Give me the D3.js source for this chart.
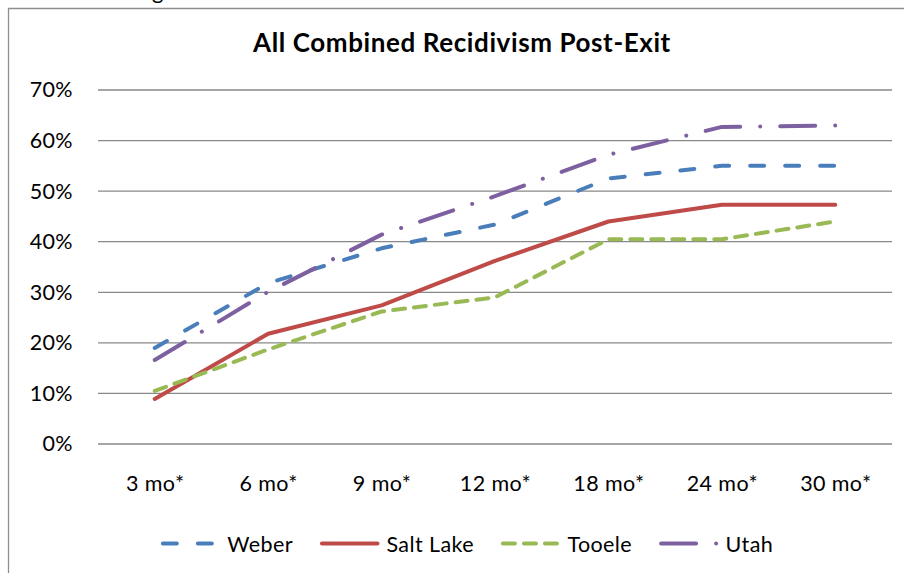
<!DOCTYPE html>
<html>
<head>
<meta charset="utf-8">
<script src="https://cdn.jsdelivr.net/npm/d3@7"></script>
<style>
  html, body { margin: 0; padding: 0; background: #fff; }
  svg { display: block; }
  text { font-family: Lato, "Open Sans", sans-serif; fill: #000; }
</style>
</head>
<body>
<svg id="chart" width="904" height="573"></svg>
<script>
// Recidivism rates by county, months after exit
const categories = ["3 mo*", "6 mo*", "9 mo*", "12 mo*", "18 mo*", "24 mo*", "30 mo*"];
const weber    = [0.190, 0.318, 0.387, 0.434, 0.525, 0.550, 0.550];
const saltLake = [0.089, 0.218, 0.274, 0.362, 0.440, 0.473, 0.473];
const tooele   = [0.105, 0.187, 0.262, 0.290, 0.405, 0.405, 0.440];
const utah     = [0.166, 0.301, 0.414, 0.490, 0.572, 0.627, 0.630];
const seriesNames = ["Weber", "Salt Lake", "Tooele", "Utah"];
const yTicks = [0, 0.1, 0.2, 0.3, 0.4, 0.5, 0.6, 0.7];
const title = "All Combined Recidivism Post-Exit";

const seriesValues = [weber, saltLake, tooele, utah];
const colors = ["#4a7ebb", "#be4b48", "#98b954", "#7d60a0"];
const dashes = ["14,21", null, "12,9", "35,20,0.01,20"];

const svg = d3.select("#chart");

// frame of the chart object (only top and left edges fall inside the page)
svg.append("path")
  .attr("d", "M8.5,573 V8.5 H904")
  .attr("fill", "none")
  .attr("stroke", "#8e8e8e")
  .attr("stroke-width", 1.3);

// tail of the heading above the chart
svg.append("text")
  .attr("x", 152).attr("y", -1)
  .attr("font-size", 22)
  .text("g");

const plot = { left: 98, right: 892, top: 90, bottom: 444 };

const x = d3.scalePoint()
  .domain(categories)
  .range([plot.left, plot.right])
  .padding(0.5);

const y = d3.scaleLinear()
  .domain([0, 0.7])
  .range([plot.bottom, plot.top]);

// horizontal gridlines
svg.append("g")
  .selectAll("line")
  .data(yTicks)
  .join("line")
  .attr("x1", plot.left).attr("x2", plot.right)
  .attr("y1", d => y(d)).attr("y2", d => y(d))
  .attr("stroke", "#898989")
  .attr("stroke-width", 1.3);

const labelStyle = sel => sel
  .attr("font-size", 21.5)
  .attr("letter-spacing", 0.4)
  .attr("font-family", "Lato, sans-serif")
  .attr("fill", "#000");

// y axis labels
const yAxis = d3.axisLeft(y)
  .tickValues(yTicks)
  .tickFormat(d3.format(".0%"))
  .tickSize(0)
  .tickPadding(0);
const yg = svg.append("g")
  .attr("transform", `translate(${plot.left - 25},0)`)
  .call(yAxis);
yg.select(".domain").remove();
yg.selectAll("text").call(labelStyle);

// x axis labels
const xAxis = d3.axisBottom(x).tickSize(0).tickPadding(0);
const xg = svg.append("g")
  .attr("transform", `translate(0,${plot.bottom + 32})`)
  .call(xAxis);
xg.select(".domain").remove();
xg.selectAll("text").call(labelStyle);

// series lines
const line = d3.line()
  .x((d, i) => x(categories[i]))
  .y(d => y(d));

svg.append("g")
  .selectAll("path")
  .data(seriesValues)
  .join("path")
  .attr("d", d => line(d))
  .attr("fill", "none")
  .attr("stroke", (d, i) => colors[i])
  .attr("stroke-width", 4)
  .attr("stroke-linecap", "round")
  .attr("stroke-linejoin", "round")
  .attr("stroke-dasharray", (d, i) => dashes[i]);

// title
svg.append("text")
  .attr("x", 462).attr("y", 52)
  .attr("text-anchor", "middle")
  .attr("font-size", 26)
  .attr("letter-spacing", 0.6)
  .attr("font-weight", "bold")
  .text(title);

// legend
const legend = svg.append("g");
const legendY = 543.5;
const lineLen = 55.5, lineGap = 9, itemGap = 29;
const items = legend.selectAll("g")
  .data(seriesNames)
  .join("g");
items.append("line")
  .attr("x1", 2).attr("x2", 2 + lineLen)
  .attr("y1", legendY).attr("y2", legendY)
  .attr("stroke", (d, i) => colors[i])
  .attr("stroke-width", 4)
  .attr("stroke-linecap", "round")
  .attr("stroke-dasharray", (d, i) => dashes[i]);
items.append("text")
  .attr("x", 2 + lineLen + lineGap)
  .attr("y", legendY + 8.5)
  .call(labelStyle)
  .text(d => d);

const widths = [];
items.each(function () {
  widths.push(this.getBBox().width);
});
const total = d3.sum(widths) + itemGap * (widths.length - 1);
let cursor = 466 - total / 2;
items.attr("transform", (d, i) => {
  const tx = cursor;
  cursor += widths[i] + itemGap;
  return `translate(${tx},0)`;
});
</script>
</body>
</html>
